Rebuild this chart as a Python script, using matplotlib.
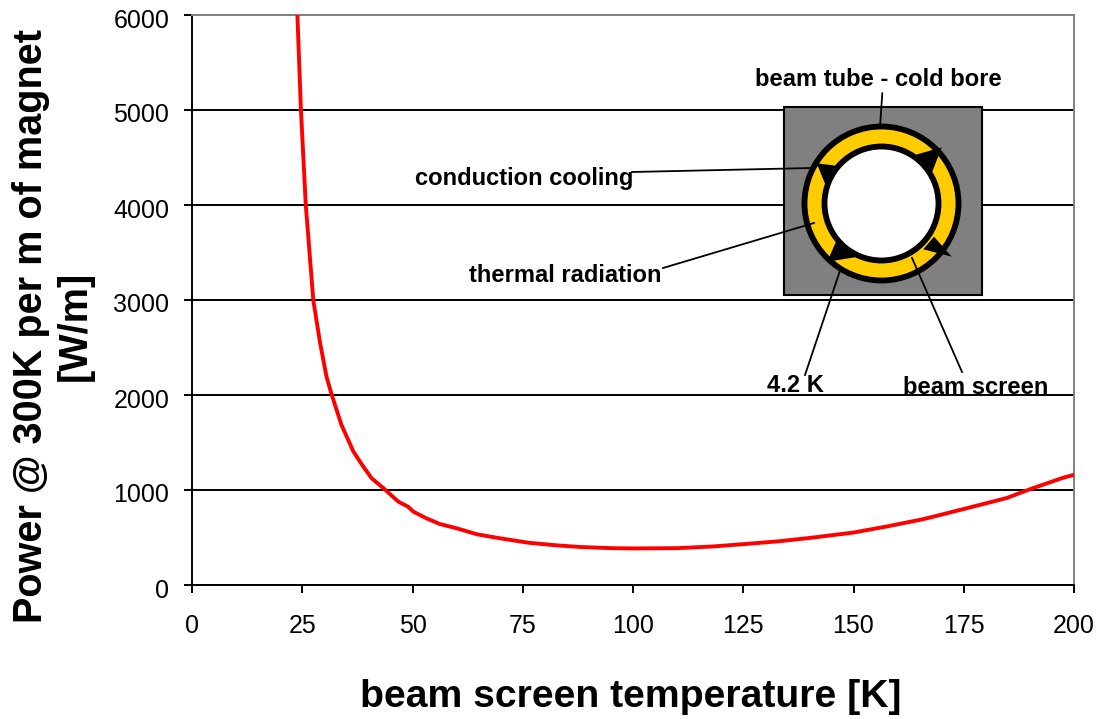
import matplotlib
matplotlib.use('Agg')
import matplotlib.pyplot as plt
from matplotlib.patches import Rectangle, Circle, Polygon
from matplotlib.transforms import ScaledTranslation

plt.rcParams['font.family'] = ['Liberation Sans', 'DejaVu Sans']

# values
temperature = [23.9, 24.7, 25.8, 27.5, 29, 30.5, 31.7, 33.9, 36.6, 38.5, 40.7, 43.4, 46.8, 49, 50.2,
               53, 56.2, 60, 64.6, 69.8, 76.3, 82, 88, 95, 100, 110, 118, 125, 133, 140,
               150, 158, 166, 175, 184.7, 190, 197.6, 200]
power = [6000, 5000, 4000, 3000, 2560, 2193, 2000, 1684, 1404, 1270, 1125, 1020, 877, 824, 772,
         705, 642, 597, 534, 492, 445, 420, 400, 388, 385, 388, 405, 430, 460, 495,
         552, 620, 695, 800, 915, 1008, 1130, 1160]
x_ticks = [0, 25, 50, 75, 100, 125, 150, 175, 200]
y_ticks = [0, 1000, 2000, 3000, 4000, 5000, 6000]

W, H = 1100, 719
fig = plt.figure(figsize=(W / 100, H / 100), dpi=100)
ax = fig.add_axes([192 / W, 1 - 585 / H, (1074 - 192) / W, (585 - 15) / H])
ax.set_xlim(0, 200)
ax.set_ylim(0, 6000)
ax.set_xticks(x_ticks)
ax.set_yticks(y_ticks)
ax.tick_params(labelsize=18, length=5.8, width=1.4, color='black')
ax.tick_params(axis='x', pad=15)
ax.tick_params(axis='y', pad=10.5)
ax.grid(axis='y', color='black', linewidth=1.4)
ax.set_axisbelow(True)
for side in ['top', 'right']:
    ax.spines[side].set_color('#808080')
    ax.spines[side].set_linewidth(1.4)
for side in ['left', 'bottom']:
    ax.spines[side].set_linewidth(1.4)
ax.get_ygridlines()[-1].set_visible(False)
# y labels sit a little below their tick in the reference
shift = ScaledTranslation(0, -3 / 100, fig.dpi_scale_trans)
for label in ax.get_yticklabels():
    label.set_transform(label.get_transform() + shift)
ax.plot(temperature, power, color='#ff0000', linewidth=2.8, zorder=3)

# axis titles placed by hand, same as the slide
fig.text(631 / W, 1 - 697 / H, 'beam screen temperature [K]', fontsize=28.2, fontweight='bold',
         ha='center', va='center')
fig.text(53 / W, 1 - 326 / H, 'Power @ 300K per m of magnet\n[W/m]', fontsize=28.5, fontweight='bold',
         rotation=90, ha='center', va='center', linespacing=1.2)

# cross section sketch, in pixel coordinates of the figure
inset = fig.add_axes([0, 0, 1, 1], zorder=5)
inset.set_xlim(0, W)
inset.set_ylim(H, 0)
inset.axis('off')
inset.patch.set_alpha(0)
inset.add_patch(Rectangle((784, 107), 198, 188, facecolor='#808080', edgecolor='black', linewidth=1.5))
inset.add_patch(Circle((881.5, 203.5), 77, facecolor='#ffcc00', edgecolor='black', linewidth=4.2))
inset.add_patch(Circle((881.5, 203.5), 57, facecolor='white', edgecolor='black', linewidth=4.2))
triangles = [
    [(941.7, 147.3), (915, 155), (931.7, 173.3)],
    [(816.7, 163.3), (838.3, 166), (826, 186)],
    [(827.3, 261.7), (836.7, 240), (855, 257.3)],
    [(951.7, 256.7), (934, 236.7), (923.3, 249.3)],
]
for tri in triangles:
    inset.add_patch(Polygon(tri, closed=True, facecolor='black', edgecolor='none'))

leaders = [
    ((882.3, 93.3), (880, 126.7)),
    ((632, 172), (812, 168)),
    ((663, 268), (814, 223)),
    ((805, 375), (840, 270.7)),
    ((962, 372), (912, 258)),
]
for start, end in leaders:
    inset.plot([start[0], end[0]], [start[1], end[1]], color='black', linewidth=1.3)

labels = [
    (878, 79, 'beam tube - cold bore'),
    (524, 179, 'conduction cooling'),
    (565, 275, 'thermal radiation'),
    (795, 386, '4.2 K'),
    (976, 387, 'beam screen'),
]
for x, y, s in labels:
    inset.text(x, y, s, fontsize=17.1, fontweight='bold', ha='center', va='center')

fig.savefig('out.png', dpi=100)
